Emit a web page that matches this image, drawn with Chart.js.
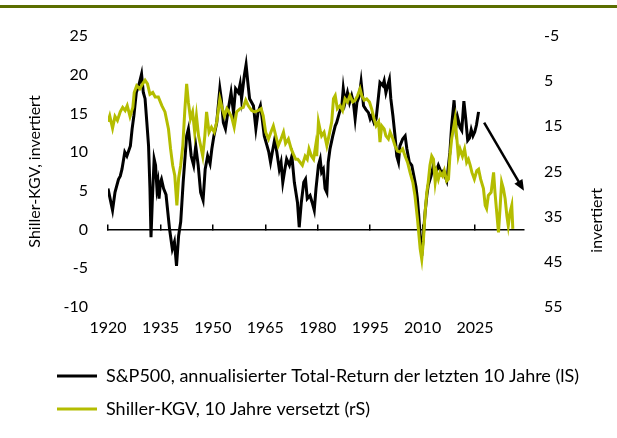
<!DOCTYPE html>
<html>
<head>
<meta charset="utf-8">
<script src="https://cdn.jsdelivr.net/npm/chart.js@4.4.1/dist/chart.umd.min.js"></script>
<style>
  html, body { margin: 0; padding: 0; background: #fff; }
  #wrap { position: relative; width: 617px; height: 438px; }
  #topbar { position: absolute; left: 0; top: 5px; width: 617px; height: 3px; background: #5b6e00; }
</style>
</head>
<body>
<div id="wrap">
  <div id="topbar"></div>
  <canvas id="chart"></canvas>
</div>
<script>
// S&P500 10y annualised total return (left axis, %)
var spxYears = [1920.0, 1920.6, 1921.3, 1922.0, 1923.0, 1923.5, 1924.0, 1924.8, 1925.4, 1926.4,
  1926.9, 1927.4, 1928.1, 1928.9, 1929.6, 1930.1, 1930.6, 1931.1, 1931.6, 1932.0,
  1932.3, 1932.7, 1933.2, 1933.6, 1934.0, 1934.3, 1934.6, 1935.0, 1935.3, 1935.9,
  1936.6, 1937.6, 1938.4, 1939.0, 1939.6, 1940.2, 1940.8, 1941.5, 1942.5, 1943.0,
  1943.8, 1944.5, 1945.1, 1945.8, 1946.5, 1947.2, 1947.8, 1948.5, 1949.2, 1949.7,
  1950.3, 1951.1, 1952.0, 1952.4, 1953.0, 1953.6, 1954.4, 1955.2, 1955.9, 1956.5,
  1957.3, 1957.8, 1958.2, 1959.0, 1959.5, 1960.0, 1960.5, 1961.1, 1961.6, 1962.3,
  1962.9, 1963.6, 1964.0, 1964.7, 1965.5, 1966.0, 1966.5, 1967.0, 1967.7, 1968.3,
  1969.0, 1969.5, 1970.0, 1970.6, 1971.1, 1971.9, 1972.6, 1973.3, 1974.2, 1974.7,
  1975.3, 1976.0, 1976.5, 1977.0, 1977.8, 1978.4, 1979.0, 1979.5, 1980.2, 1980.7,
  1981.1, 1981.6, 1982.1, 1982.6, 1983.0, 1983.5, 1984.3, 1985.0, 1985.4, 1986.2,
  1986.9, 1987.3, 1987.8, 1988.5, 1989.1, 1989.7, 1990.2, 1990.7, 1991.2, 1991.9,
  1992.4, 1993.1, 1993.8, 1994.5, 1995.0, 1995.4, 1996.1, 1996.7, 1997.4, 1997.8,
  1998.6, 1999.0, 1999.5, 2000.0, 2000.5, 2000.9, 2001.5, 2002.1, 2002.6, 2003.1,
  2003.5, 2004.3, 2005.0, 2005.5, 2006.2, 2006.9, 2007.5, 2008.1, 2008.5, 2008.9,
  2009.3, 2009.75, 2010.2, 2010.7, 2011.2, 2011.6, 2012.4, 2013.1, 2013.8, 2014.5,
  2015.3, 2016.0, 2016.4, 2016.9, 2017.4, 2017.8, 2018.3, 2019.0, 2019.5, 2020.0,
  2020.7, 2021.2, 2021.8, 2022.3, 2022.9, 2023.4, 2023.9, 2024.4, 2024.9, 2025.4,
  2026.0];
var spxReturn = [5.3, 4.0, 2.5, 4.8, 6.5, 6.9, 7.8, 10.0, 9.5, 10.8,
  13.0, 14.7, 17.7, 18.8, 20.1, 17.7, 16.9, 13.9, 10.8, 5.3,
  -1.0, 4.0, 9.1, 8.3, 5.3, 6.1, 4.0, 6.1, 6.5, 5.3,
  4.5, 0.1, -2.5, -1.6, -4.7, -0.8, 1.0, 6.1, 12.1, 13.0,
  9.5, 8.3, 10.8, 8.3, 4.8, 3.8, 7.8, 9.5, 8.5, 10.4,
  12.1, 13.8, 18.2, 16.9, 13.8, 13.0, 15.5, 17.7, 15.1, 18.2,
  17.7, 18.8, 16.9, 19.9, 21.3, 19.0, 16.9, 16.4, 16.0, 13.0,
  15.1, 16.0, 14.7, 12.1, 10.8, 10.0, 8.7, 10.0, 11.7, 10.0,
  7.8, 8.7, 6.1, 7.8, 9.1, 8.3, 9.5, 6.1, 3.5, 0.3,
  3.5, 6.1, 6.5, 4.0, 4.4, 3.5, 2.5, 5.3, 8.3, 9.1,
  7.4, 7.8, 5.3, 4.8, 8.7, 10.4, 12.1, 13.4, 13.8, 15.1,
  16.0, 18.2, 16.4, 17.7, 16.4, 17.3, 16.4, 14.3, 16.4, 17.3,
  19.1, 16.0, 15.5, 15.1, 14.3, 14.7, 13.8, 14.3, 17.3, 19.0,
  18.6, 19.2, 17.7, 18.6, 19.4, 16.9, 14.7, 12.1, 9.5, 8.7,
  10.8, 11.7, 12.1, 10.4, 8.7, 8.3, 6.9, 5.5, 4.0, 1.8,
  -0.8, -3.4, -0.8, 2.2, 4.4, 5.7, 6.9, 8.3, 7.4, 8.3,
  7.4, 7.6, 6.9, 6.3, 8.3, 10.0, 13.4, 16.7, 13.2, 14.5,
  13.2, 12.8, 16.6, 14.5, 11.5, 11.8, 12.9, 12.1, 12.6, 13.5,
  15.2];

// Shiller CAPE shifted forward 10 years (right axis, inverted)
var capeYears = [1920.0, 1920.5, 1921.3, 1922.0, 1922.7, 1923.5, 1924.2, 1924.9, 1925.5, 1926.3,
  1927.1, 1927.5, 1928.2, 1929.1, 1929.9, 1930.6, 1931.3, 1932.0, 1932.8, 1933.5,
  1934.4, 1935.4, 1936.3, 1937.3, 1937.9, 1938.5, 1939.1, 1939.7, 1940.2, 1940.8,
  1941.4, 1942.0, 1942.5, 1943.0, 1943.6, 1944.2, 1944.8, 1945.3, 1945.9, 1946.5,
  1947.1, 1947.7, 1948.2, 1948.9, 1949.6, 1950.4, 1951.1, 1952.0, 1952.7, 1953.3,
  1954.0, 1954.6, 1955.4, 1956.1, 1956.8, 1957.8, 1958.7, 1959.4, 1960.1, 1961.1,
  1962.0, 1963.0, 1963.8, 1964.4, 1965.1, 1965.9, 1966.6, 1967.3, 1968.0, 1968.7,
  1969.5, 1970.2, 1970.8, 1971.6, 1972.4, 1973.0, 1973.7, 1974.3, 1975.0, 1975.6,
  1976.4, 1977.0, 1977.5, 1978.2, 1978.8, 1979.4, 1979.7, 1980.2, 1980.7, 1981.1,
  1981.8, 1982.6, 1983.2, 1984.0, 1984.5, 1985.0, 1985.6, 1986.4, 1987.1, 1987.8,
  1988.5, 1989.2, 1990.0, 1990.7, 1991.4, 1992.1, 1992.6, 1993.3, 1994.0, 1994.8,
  1995.4, 1996.1, 1996.7, 1997.4, 1997.8, 1998.3, 1999.0, 1999.5, 2000.2, 2000.7,
  2001.5, 2002.1, 2002.8, 2003.5, 2004.3, 2005.0, 2005.7, 2006.4, 2007.2, 2007.8,
  2008.6, 2009.3, 2009.75, 2010.2, 2010.7, 2011.2, 2011.6, 2012.1, 2012.6, 2013.1,
  2013.6, 2014.0, 2014.5, 2015.0, 2015.7, 2016.2, 2016.9, 2017.4, 2017.8, 2018.3,
  2018.8, 2019.3, 2019.8, 2020.2, 2020.7, 2021.4, 2022.0, 2022.6, 2023.1, 2023.6,
  2024.1, 2024.8, 2025.5, 2026.0, 2026.6, 2027.4, 2027.9, 2028.3, 2028.8, 2029.6,
  2030.3, 2030.7, 2031.2, 2031.7, 2032.2, 2032.6, 2033.1, 2033.6, 2034.1, 2034.5,
  2035.0, 2035.5, 2035.8];
var capeShifted = [14.0, 12.7, 15.4, 12.8, 13.7, 11.8, 10.8, 11.5, 10.4, 12.8,
  10.8, 7.5, 6.0, 6.7, 5.6, 4.8, 5.6, 7.9, 7.5, 8.5,
  8.5, 10.4, 11.8, 15.6, 20.0, 23.6, 25.9, 32.5, 26.5, 23.6,
  19.3, 11.1, 5.6, 9.7, 13.3, 11.8, 16.3, 12.7, 17.1, 19.3,
  21.6, 17.1, 11.8, 16.3, 15.2, 16.3, 14.0, 8.9, 11.1, 12.7,
  11.1, 11.8, 13.0, 15.2, 11.8, 11.1, 10.8, 9.2, 10.4, 11.5,
  11.8, 11.5, 11.1, 12.7, 16.3, 17.8, 16.3, 14.9, 17.1, 19.3,
  17.8, 16.3, 18.8, 17.8, 20.0, 21.1, 22.3, 22.3, 23.0, 23.6,
  21.6, 22.3, 20.0, 21.6, 22.3, 19.3, 21.6, 14.0, 15.9, 17.1,
  16.3, 19.3, 17.1, 14.0, 8.9, 8.2, 11.1, 10.4, 11.5, 8.9,
  9.6, 8.2, 9.6, 9.2, 8.2, 6.7, 8.2, 9.2, 8.9, 9.6,
  11.1, 13.3, 14.9, 14.0, 18.5, 14.9, 15.6, 17.1, 17.8, 16.3,
  17.8, 19.3, 20.5, 20.7, 20.0, 21.6, 23.0, 25.2, 27.4, 30.3,
  36.1, 42.1, 44.4, 40.6, 34.1, 29.6, 27.4, 23.6, 21.6, 22.3,
  27.4, 25.2, 26.7, 25.2, 26.0, 24.8, 27.1, 26.7, 21.6, 17.8,
  15.6, 13.3, 17.8, 21.6, 20.0, 21.6, 20.0, 23.0, 22.3, 23.6,
  25.2, 26.7, 24.8, 24.5, 26.7, 28.8, 32.5, 33.2, 30.3, 29.6,
  25.2, 29.6, 34.1, 38.5, 32.5, 27.4, 28.8, 31.0, 34.8, 37.0,
  34.1, 32.5, 37.7];

// down arrow drawn after the data (year, left-axis value)
var arrowFrom = [2027.6, 13.8];
var arrowTo = [2039.0, 5.0];

var FONT = "Lato, 'Open Sans', sans-serif";
var TXT = "#000000";

function toPoints(xs, ys) {
  return xs.map(function (x, i) { return { x: x, y: ys[i] }; });
}

var extras = {
  id: 'extras',
  afterLayout: function (chart) {
    // legend in the reference starts flush with the left margin
    chart.legend.left = 42;
  },
  afterDatasetsDraw: function (chart) {
    var ctx = chart.ctx, sx = chart.scales.x, sy = chart.scales.y;
    var x0 = sx.getPixelForValue(arrowFrom[0]), y0 = sy.getPixelForValue(arrowFrom[1]);
    var x1 = sx.getPixelForValue(arrowTo[0]), y1 = sy.getPixelForValue(arrowTo[1]);
    var ang = Math.atan2(y1 - y0, x1 - x0);
    ctx.save();
    ctx.strokeStyle = '#000';
    ctx.fillStyle = '#000';
    ctx.lineWidth = 2.5;
    ctx.beginPath();
    ctx.moveTo(x0, y0);
    ctx.lineTo(x1 - 8 * Math.cos(ang), y1 - 8 * Math.sin(ang));
    ctx.stroke();
    ctx.beginPath();
    ctx.moveTo(x1, y1);
    ctx.lineTo(x1 - 12 * Math.cos(ang - 0.4), y1 - 12 * Math.sin(ang - 0.4));
    ctx.lineTo(x1 - 12 * Math.cos(ang + 0.4), y1 - 12 * Math.sin(ang + 0.4));
    ctx.closePath();
    ctx.fill();
    ctx.restore();
  },
  afterDraw: function (chart) {
    // right axis title reads bottom-to-top like the left one
    var ctx = chart.ctx, r = chart.scales.y2, area = chart.chartArea;
    ctx.save();
    ctx.translate(r.right - 20, area.top + (area.bottom - area.top) * 0.68);
    ctx.rotate(-Math.PI / 2);
    ctx.font = "16px " + FONT;
    ctx.fillStyle = TXT;
    ctx.textAlign = 'center';
    ctx.textBaseline = 'middle';
    ctx.fillText('invertiert', 0, 0);
    ctx.restore();
  }
};

var ctx = document.getElementById('chart');

new Chart(ctx, {
  type: 'line',
  data: {
    datasets: [{
      label: 'S&P500, annualisierter Total-Return der letzten 10 Jahre (lS)',
      data: toPoints(spxYears, spxReturn),
      borderColor: '#000000',
      backgroundColor: '#000000',
      borderWidth: 3,
      pointRadius: 0,
      xAxisID: 'x',
      yAxisID: 'y',
      order: 1
    }, {
      label: 'Shiller-KGV, 10 Jahre versetzt (rS)',
      data: toPoints(capeYears, capeShifted),
      borderColor: '#b4bd00',
      backgroundColor: '#b4bd00',
      borderWidth: 3,
      pointRadius: 0,
      xAxisID: 'x',
      yAxisID: 'y2',
      order: 0
    }]
  },
  options: {
    responsive: true,
    maintainAspectRatio: false,
    animation: false,
    layout: { padding: { top: 36, bottom: 10, left: 0, right: 0 } },
    plugins: {
      tooltip: { enabled: false },
      legend: {
        position: 'bottom',
        align: 'start',
        reverse: true,
        labels: {
          usePointStyle: true,
          pointStyle: 'line',
          pointStyleWidth: 40,
          color: TXT,
          font: { family: FONT, size: 18 },
          padding: 15
        }
      }
    },
    scales: {
      x: {
        type: 'linear',
        min: 1920,
        max: 2039,
        position: { y: 0 },
        border: { display: true, color: '#000', width: 1.5 },
        grid: { display: true, drawOnChartArea: false, drawTicks: true, tickLength: -6, color: '#000', lineWidth: 1.5 },
        ticks: { display: false, stepSize: 15, includeBounds: false }
      },
      x2: {
        type: 'linear',
        min: 1920,
        max: 2039,
        position: 'bottom',
        border: { display: false },
        grid: { display: false, drawTicks: false },
        ticks: {
          stepSize: 15,
          includeBounds: false,
          autoSkip: false,
          maxRotation: 0,
          padding: 11,
          color: TXT,
          font: { family: FONT, size: 16 },
          callback: function (v) { return String(v); }
        },
        afterFit: function (s) { s.height = 45; }
      },
      y: {
        position: 'left',
        min: -10,
        max: 25,
        border: { display: false },
        grid: { display: false, drawTicks: false },
        ticks: { stepSize: 5, padding: 20, color: TXT, font: { family: FONT, size: 16 } },
        title: {
          display: true,
          text: 'Shiller-KGV, invertiert',
          color: TXT,
          font: { family: FONT, size: 16 },
          padding: { top: 25, bottom: 0 }
        },
        afterFit: function (s) { s.width = 108; }
      },
      y2: {
        position: 'right',
        min: -5,
        max: 55,
        reverse: true,
        border: { display: false },
        grid: { display: false, drawTicks: false },
        ticks: { stepSize: 10, padding: 20, color: TXT, font: { family: FONT, size: 16 } },
        afterFit: function (s) { s.width = 93; }
      }
    }
  },
  plugins: [extras]
});
</script>
</body>
</html>
